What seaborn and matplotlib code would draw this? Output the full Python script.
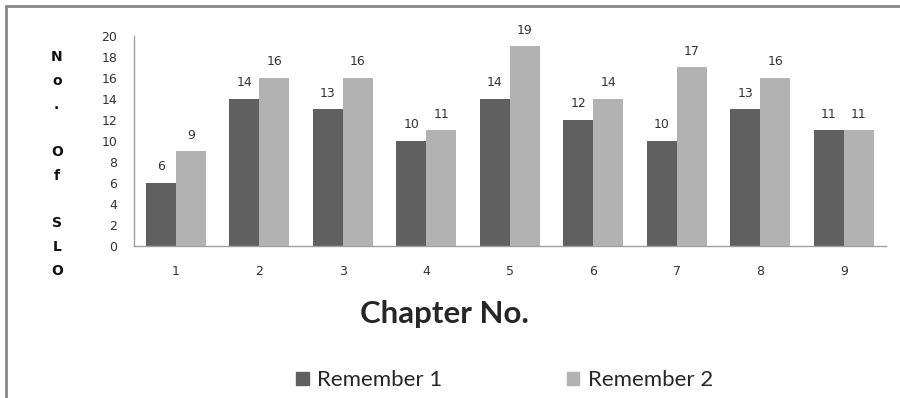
import matplotlib
matplotlib.use('Agg')

import pandas as pd
import matplotlib.pyplot as plt
import seaborn as sns

# 資料
chapters = ['1', '2', '3', '4', '5', '6', '7', '8', '9']
remember1 = [6, 14, 13, 10, 14, 12, 10, 13, 11]
remember2 = [9, 16, 16, 11, 19, 14, 17, 16, 11]
series_names = ['Remember 1', 'Remember 2']
colors = ['#606060', '#b2b2b2']

df = pd.DataFrame({
    'Chapter': chapters * 2,
    'SLO': remember1 + remember2,
    'Series': [series_names[0]] * len(chapters) + [series_names[1]] * len(chapters),
})

sns.set_style('white')
plt.rcParams['font.family'] = ['DejaVu Sans']

fig = plt.figure(figsize=(9, 3.98), dpi=100)
ax = fig.add_axes([0.149, 0.382, 0.835, 0.528])

sns.barplot(data=df, x='Chapter', y='SLO', hue='Series', palette=colors,
            width=0.72, saturation=1, linewidth=0, ax=ax, legend=False)

for cont in ax.containers:
    ax.bar_label(cont, padding=7, fontsize=9, color='#333333')

ax.set_ylim(0, 20)
ax.set_yticks(range(0, 21, 2))
ax.tick_params(axis='both', length=0, labelsize=9, labelcolor='#333333')
ax.tick_params(axis='y', pad=12)
ax.tick_params(axis='x', pad=14)
ax.set_xlabel('')
ax.set_ylabel('')
for side in ['top', 'right']:
    ax.spines[side].set_visible(False)
for side in ['left', 'bottom']:
    ax.spines[side].set_color('#a0a0a0')
    ax.spines[side].set_linewidth(1)

# 直排 y 軸標題
fig.text(0.063, 0.588, 'N\no\n.\n\nO\nf\n\nS\nL\nO', ha='center', va='center',
         fontsize=10, fontweight='bold', linespacing=1.885, color='#111111')

fig.text(0.494, 0.21, 'Chapter No.', ha='center', va='center',
         fontsize=22.5, fontweight='bold', family=['Lato', 'DejaVu Sans'])

# 圖例
handles = [plt.Rectangle((0, 0), 1, 1, color=c) for c in colors]
fig.legend(handles, series_names, loc='center', bbox_to_anchor=(0.561, 0.045),
           ncol=2, frameon=False, handlelength=0.55, handleheight=0.55,
           handletextpad=0.4, columnspacing=5.6,
           prop={'family': ['Lato', 'DejaVu Sans'], 'size': 16})

# 外框線
fig.add_artist(plt.Line2D([0.007, 1.0], [0.985, 0.985], color='#888888', lw=2, transform=fig.transFigure))
fig.add_artist(plt.Line2D([0.007, 0.007], [0.0, 0.985], color='#888888', lw=2, transform=fig.transFigure))

plt.savefig('out.png', dpi=100)
